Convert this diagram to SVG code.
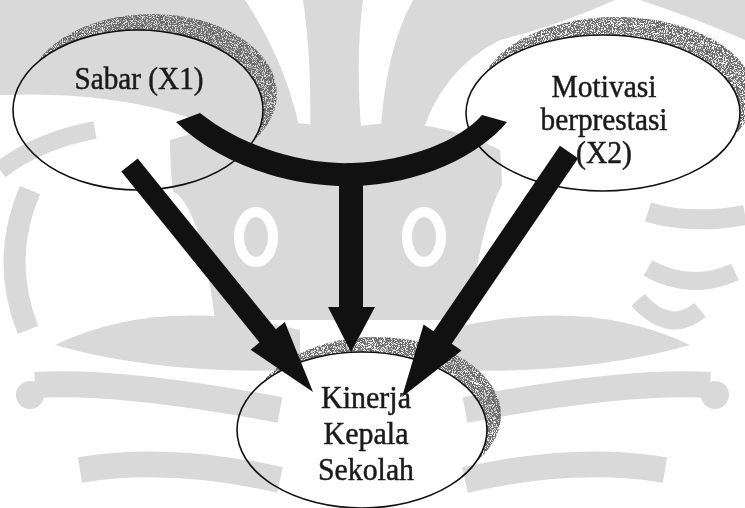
<svg xmlns="http://www.w3.org/2000/svg" width="745" height="508" viewBox="0 0 745 508">
<style>
.wm{fill:none;stroke:#d9d9d9;stroke-linecap:butt}
.wmf{fill:#d9d9d9}
.wmw{fill:#fff}
.node{fill:none;stroke:#111;stroke-width:1.6}
.shadow{fill:#777}
.arrow{fill:#111}
.lbl{font-family:"Liberation Serif","Times New Roman",serif;font-size:32px;fill:#1a1a1a;stroke:#1a1a1a;stroke-width:0.5;text-anchor:middle}
</style>
<defs>
<filter id="grain" x="0" y="0" width="1" height="1">
<feTurbulence type="fractalNoise" baseFrequency="1.1" numOctaves="2" seed="4" result="noise"/>
<feColorMatrix in="noise" type="matrix" values="0 0 0 0 0.15  0 0 0 0 0.15  0 0 0 0 0.15  0 0 0 -8 4.9" result="dots"/>
<feComposite in="dots" in2="SourceAlpha" operator="in"/>
</filter>
<mask id="m1"><rect width="745" height="508" fill="#fff"/><ellipse cx="138" cy="110" rx="125" ry="80" fill="#000"/></mask>
<mask id="m2"><rect width="745" height="508" fill="#fff"/><ellipse cx="603" cy="113" rx="137" ry="78" fill="#000"/></mask>
<mask id="m3"><rect width="745" height="508" fill="#fff"/><ellipse cx="362" cy="430" rx="125" ry="78" fill="#000"/></mask>
</defs>
<rect width="745" height="508" fill="#fff"/>
<g id="watermark">
<path class="wmf" d="M0 0 L245 0 Q285 60 300 130 L240 140 Q150 90 0 95 Z"/>
<path class="wmf" d="M303 0 L363 0 Q355 60 362 140 L310 140 Q312 60 303 0 Z"/>
<path class="wmf" d="M413 0 L615 0 Q560 25 500 40 Q440 70 420 140 L380 140 Q385 50 413 0 Z"/>
<path class="wmf" d="M640 0 L745 0 L745 40 Q700 20 640 0 Z"/>
<path class="wmf" d="M170 140 Q260 110 340 130 Q420 110 500 150 Q510 240 470 320 L210 320 Q170 240 170 140 Z"/>
<ellipse cx="256" cy="237" rx="17" ry="25" fill="none" stroke="#fff" stroke-width="10"/>
<ellipse cx="424" cy="237" rx="17" ry="25" fill="none" stroke="#fff" stroke-width="10"/>
<path class="wmw" d="M170 190 Q200 200 215 320 L170 320 Z"/>
<path class="wmw" d="M505 180 Q480 220 470 320 L510 320 Z"/>
<path class="wm" stroke-width="22" d="M30 190 Q0 260 28 330"/>
<path class="wm" stroke-width="18" d="M0 170 Q40 140 95 130"/>
<path class="wm" stroke-width="20" d="M745 215 Q690 225 648 212"/>
<path class="wm" stroke-width="18" d="M735 272 Q690 292 648 268"/>
<path class="wm" stroke-width="18" d="M700 310 Q670 335 638 300"/>
<path class="wmf" d="M55 345 Q160 295 300 330 L300 370 Q160 375 55 345 Z"/>
<path class="wmf" d="M690 345 Q585 295 445 330 L445 370 Q585 375 690 345 Z"/>
<path class="wm" stroke-width="26" d="M35 385 Q120 380 280 410"/>
<path class="wm" stroke-width="26" d="M710 385 Q625 380 465 410"/>
<circle class="wmf" cx="30" cy="395" r="14"/>
<circle class="wmf" cx="715" cy="395" r="14"/>
<path class="wm" stroke-width="26" d="M80 470 Q170 455 280 480"/>
<path class="wm" stroke-width="26" d="M665 470 Q575 455 465 480"/>
</g>
<g id="shadows" filter="url(#grain)">
<ellipse class="shadow" cx="152" cy="94" rx="125" ry="80" mask="url(#m1)"/>
<ellipse class="shadow" cx="617" cy="95" rx="137" ry="78" mask="url(#m2)"/>
<ellipse class="shadow" cx="376" cy="415" rx="125" ry="78" mask="url(#m3)"/>
</g>
<g id="connectors">
<path class="arrow" d="M200 113 C240 145 300 165 352 163 C410 161 460 140 482 115 L507 122 C480 155 420 185 352 186 C290 187 220 165 176 122 Z"/>
<polygon class="arrow" points="339,175 363,175 363,307 375,307 351,352 328,307 339,307"/>
<polygon class="arrow" points="121.3,171.6 137.7,158.4 275.9,329.3 284.8,322.1 313,392 250.6,349.7 259.5,342.5"/>
<polygon class="arrow" points="559.9,145.8 578.1,158.2 451.7,343.7 461.6,350.5 402,397 423.6,324.5 433.5,331.3"/>
</g>
<g id="sabar">
<ellipse class="node" cx="138" cy="110" rx="125" ry="80"/>
<text class="lbl" x="139" y="89" textLength="129" lengthAdjust="spacingAndGlyphs">Sabar (X1)</text>
</g>
<g id="motivasi">
<ellipse class="node" cx="603" cy="113" rx="137" ry="78"/>
<text class="lbl" x="604" y="97" textLength="105" lengthAdjust="spacingAndGlyphs">Motivasi</text>
<text class="lbl" x="604" y="130" textLength="127" lengthAdjust="spacingAndGlyphs">berprestasi</text>
<text class="lbl" x="604" y="163" textLength="56" lengthAdjust="spacingAndGlyphs">(X2)</text>
</g>
<g id="kinerja">
<ellipse class="node" cx="362" cy="430" rx="125" ry="78"/>
<text class="lbl" x="366" y="408" textLength="90" lengthAdjust="spacingAndGlyphs">Kinerja</text>
<text class="lbl" x="366" y="444" textLength="85" lengthAdjust="spacingAndGlyphs">Kepala</text>
<text class="lbl" x="366" y="480" textLength="96" lengthAdjust="spacingAndGlyphs">Sekolah</text>
</g>
</svg>
